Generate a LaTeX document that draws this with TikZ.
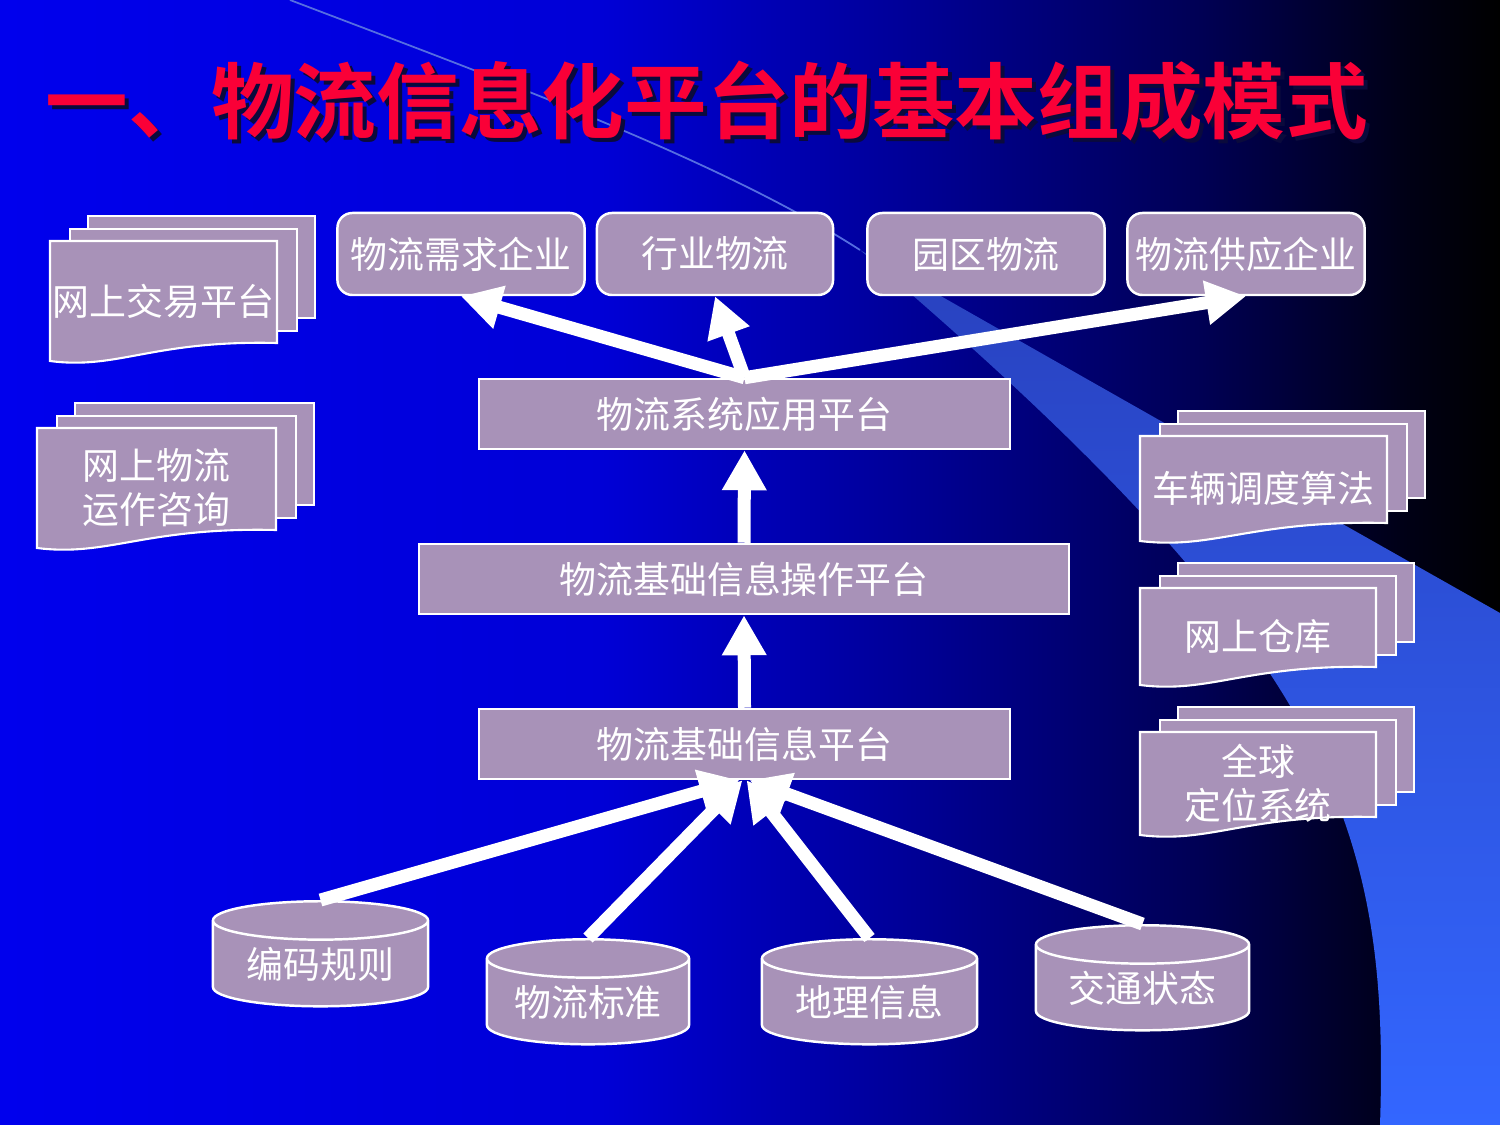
\documentclass[tikz,border=0pt]{standalone}
\usepackage{fontspec}
\usepackage{tikz}
\usetikzlibrary{arrows.meta,shapes.geometric,calc}

\newfontfamily\cjk{Noto Sans CJK SC}
\newfontfamily\cjkhei{Noto Sans CJK SC Bold}
\newcommand\boxfont{\cjk\fontsize{10.5pt}{12.5pt}\selectfont}
\newcommand\titlefont{\cjkhei\fontsize{23.5pt}{28pt}\selectfont}

\definecolor{lav}{RGB}{168,146,184}
\definecolor{titlered}{RGB}{250,0,55}
\definecolor{titleshade}{RGB}{10,10,60}
\definecolor{swooshtop}{RGB}{40,65,190}
\definecolor{swooshmid}{RGB}{50,95,240}
\definecolor{swooshbot}{RGB}{51,102,255}
\definecolor{swooshline}{RGB}{85,110,225}

\pgfdeclarehorizontalshading{slidebg}{100bp}{rgb(0bp)=(0,0,0.93); rgb(25bp)=(0,0,0.93);
  rgb(45bp)=(0,0,0.84); rgb(55bp)=(0,0,0.6); rgb(65bp)=(0,0,0.33);
  rgb(72bp)=(0,0,0.08); rgb(75bp)=(0,0,0); rgb(100bp)=(0,0,0)}

\tikzset{
  topbox/.style={rounded corners=0.15cm, fill=lav, draw=white, line width=0.7pt,
    minimum width=2.37cm, minimum height=0.82cm, inner sep=0pt, text=white, font=\boxfont},
  platbox/.style={fill=lav, draw=white, line width=0.7pt, minimum height=0.70cm,
    inner sep=0pt, text=white, font=\boxfont},
  store/.style={cylinder, shape border rotate=90, aspect=0.26, fill=lav, draw=white,
    line width=0.7pt, minimum width=2.15cm, minimum height=1.05cm, inner sep=0pt,
    text=white, font=\boxfont},
  sheet/.style={fill=lav, draw=white, line width=0.6pt},
  sheettext/.style={text=white, font=\boxfont, align=center, inner sep=0pt},
  flow/.style={draw=white, line width=0.13cm, -{Triangle[width=0.42cm,length=0.40cm]}}
}

% stacked documents: name, left, top, width, height, text
\newcommand\docstack[6]{%
  \foreach \dx/\dy in {38/25,20/12}
    \draw[sheet] ({#2+\dx},{#3-\dy}) rectangle ({#2+#4+\dx},{#3+#5-\dy});
  \draw[sheet] (#2,#3) -- ({#2+#4},#3) -- ({#2+#4},{#3+#5})
    .. controls ({#2+0.45*#4},{#3+#5-3}) and ({#2+0.3*#4},{#3+#5+27}) .. (#2,{#3+#5+18}) -- cycle;
  \node[sheettext] (#1) at ({#2+0.5*#4},{#3+0.5*#5+9}) {#6};
}

\begin{document}
\begin{tikzpicture}[x=0.01cm,y=-0.01cm]
  \useasboundingbox (0,0) rectangle (1500,1125);
  % background
  \shade[shading=slidebg] (0,0) rectangle (1500,1125);
  \draw[swooshline, line width=0.5pt] (290,0) .. controls (500,80) and (720,160) .. (860,250);
  \shade[top color=swooshtop, middle color=swooshmid, bottom color=swooshbot]
    (860,250) .. controls (1000,330) and (1300,500) .. (1500,613) -- (1500,1125) -- (1380,1125)
    .. controls (1390,820) and (1330,650) .. (860,250) -- cycle;

  % title
  \node[text=titleshade, font=\titlefont] (titleshadow) at (711,105) {一、物流信息化平台的基本组成模式};
  \node[text=titlered, font=\titlefont] (title) at (707,101) {一、物流信息化平台的基本组成模式};

  % side documents
  \docstack{trading}{50}{241}{227}{102}{网上交易平台}
  \docstack{consult}{37}{428}{239}{102}{网上物流\\运作咨询}
  \docstack{dispatch}{1140}{436}{247}{87}{车辆调度算法}
  \docstack{warehouse}{1140}{588}{236}{79}{网上仓库}
  \docstack{gps}{1140}{732}{236}{85}{全球\\定位系统}

  % top row
  \node[topbox, minimum width=2.47cm] (need) at (461,254) {物流需求企业};
  \node[topbox, minimum width=2.36cm] (trade) at (715,254) {行业物流};
  \node[topbox] (park) at (986,254) {园区物流};
  \node[topbox] (supply) at (1246,254) {物流供应企业};

  % platforms
  \node[platbox, minimum width=5.31cm] (app) at (744.5,414) {物流系统应用平台};
  \node[platbox, minimum width=6.50cm] (oper) at (744,579) {物流基础信息操作平台};
  \node[platbox, minimum width=5.31cm] (base) at (744.5,744) {物流基础信息平台};

  % data stores
  \node[store] (code) at (320.5,964) {编码规则};
  \node[store, minimum width=2.02cm] (std) at (588,1002) {物流标准};
  \node[store] (geo) at (869.5,1002) {地理信息};
  \node[store, minimum width=2.13cm] (traffic) at (1142.5,988) {交通状态};

  % arrows
  \draw[flow] (app.north) -- (need.south);
  \draw[flow] (app.north) -- (trade.south);
  \draw[flow] (app.north) -- (supply.south);
  \draw[flow] (oper.north) -- (app.south);
  \draw[flow] (base.north) -- (oper.south);
  \draw[flow] (code.north) -- ([xshift=-0.05cm]base.south);
  \draw[flow] (std.north) -- ([xshift=-0.02cm]base.south);
  \draw[flow] (geo.north) -- ([xshift=0.02cm]base.south);
  \draw[flow] (traffic.north) -- ([xshift=0.05cm]base.south);
\end{tikzpicture}
\end{document}
